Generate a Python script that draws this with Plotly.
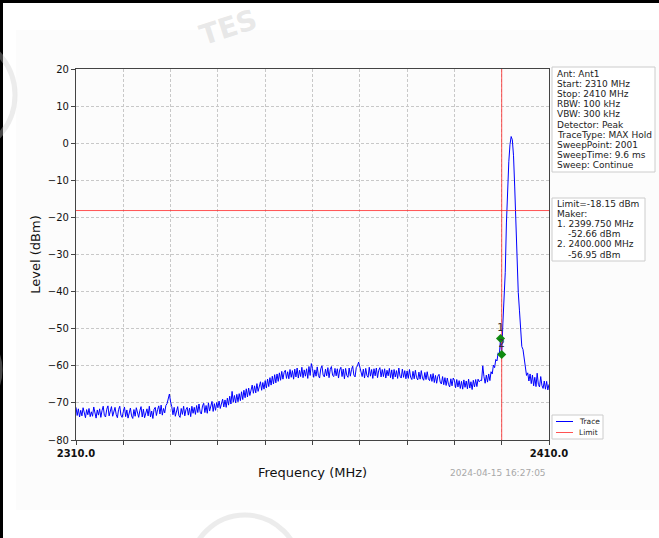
import plotly.graph_objects as go

# ---------------- data ----------------
START_MHZ = 2310.0
STOP_MHZ = 2410.0
STEP_MHZ = 0.25

# trace levels (dBm), every 0.25 MHz, 2310 .. 2410 MHz
trace_dbm = [
    -71.2, -73.4, -71.6, -73.8, -72.0, -73.5, -71.3, -72.9, -74.0, -71.8, -73.2, -71.5, -73.7, -72.4, -73.6, -71.1, -72.8, -74.1, -71.9, -73.3,
    -71.6, -73.9, -72.1, -70.9, -73.4, -73.8, -71.7, -70.8, -73.5, -72.0, -71.0, -73.6, -72.3, -71.2, -73.1, -74.0, -71.8, -70.9, -73.3, -73.9,
    -72.4, -71.1, -73.7, -71.9, -74.1, -72.6, -71.4, -73.5, -74.2, -71.8, -73.6, -71.3, -73.2, -73.9, -72.1, -71.0, -73.8, -71.7, -74.0, -72.6,
    -71.6, -73.5, -70.9, -73.8, -72.2, -74.2, -71.7, -71.2, -73.4, -71.8, -70.8, -73.0, -70.6, -73.3, -71.5, -72.7, -70.7, -70.2, -68.9, -67.6,
    -69.8, -71.0, -73.2, -71.2, -73.6, -72.0, -71.0, -73.4, -73.9, -71.5, -73.1, -70.9, -73.5, -71.8, -71.2, -73.3, -71.4, -73.7, -70.9, -72.8,
    -71.2, -73.1, -70.7, -72.6, -70.3, -72.5, -73.0, -70.8, -70.1, -72.6, -70.7, -72.8, -70.0, -72.2, -70.5, -69.6, -72.3, -70.2, -72.0, -69.9,
    -71.3, -69.5, -71.5, -70.0, -69.0, -71.1, -69.2, -71.2, -68.7, -70.6, -68.2, -70.3, -66.9, -69.8, -68.0, -70.0, -67.7, -69.7, -67.5, -69.4,
    -67.0, -69.1, -66.6, -68.6, -66.2, -68.4, -66.0, -68.0, -66.3, -65.2, -67.4, -65.4, -67.3, -64.8, -66.9, -65.0, -64.3, -66.6, -64.5, -66.3,
    -64.0, -66.0, -63.6, -65.6, -63.2, -65.2, -62.8, -64.9, -62.4, -64.6, -62.2, -64.2, -61.9, -63.9, -61.5, -63.6, -61.8, -61.2, -63.4, -61.6,
    -63.5, -61.0, -63.1, -61.3, -63.6, -60.9, -63.0, -60.6, -63.3, -61.2, -62.9, -60.4, -63.2, -61.1, -62.8, -60.8, -63.4, -60.2, -62.6, -59.4,
    -60.7, -63.1, -61.1, -62.8, -60.3, -62.6, -63.3, -60.8, -60.0, -62.5, -63.0, -60.9, -62.7, -60.5, -63.2, -61.0, -60.2, -62.6, -62.9, -60.7,
    -62.7, -60.8, -63.3, -61.1, -60.4, -62.9, -60.9, -63.5, -60.7, -62.6, -63.1, -60.6, -62.8, -61.0, -60.1, -62.5, -63.0, -60.5, -60.0, -59.0,
    -60.3, -62.4, -62.9, -60.9, -63.3, -60.7, -62.6, -63.1, -60.4, -62.8, -61.0, -63.4, -60.8, -62.7, -60.6, -63.2, -61.2, -60.5, -63.0, -61.0,
    -62.9, -60.8, -63.3, -61.2, -62.7, -60.7, -63.2, -61.1, -63.6, -61.0, -63.0, -61.3, -63.4, -60.6, -62.8, -63.3, -60.9, -63.1, -61.3, -63.5,
    -61.4, -63.4, -61.0, -63.1, -63.7, -61.5, -63.5, -61.2, -63.2, -63.8, -61.7, -63.6, -61.3, -63.3, -63.9, -61.8, -63.7, -61.6, -63.5, -64.0,
    -62.3, -64.2, -62.1, -64.5, -62.6, -64.7, -62.8, -62.3, -64.4, -64.9, -62.9, -65.1, -63.2, -65.3, -63.3, -65.0, -65.7, -63.5, -65.4, -63.3,
    -63.9, -65.9, -63.7, -65.7, -64.0, -66.1, -64.2, -66.3, -63.8, -65.8, -64.1, -66.2, -63.6, -66.0, -64.3, -66.4, -63.9, -65.7, -63.7, -65.6,
    -63.6, -64.3, -63.9, -64.0, -60.0, -62.9, -64.7, -62.5, -64.4, -62.2, -64.0, -61.6, -62.2, -59.8, -60.5, -58.3, -58.7, -56.5, -57.0, -52.66,
    -56.95, -48.5, -42.7, -34.8, -21.5, -12.0, -5.0, -0.4, 1.8, 0.9, -3.4, -11.8, -21.7, -32.5, -40.2, -45.0, -50.5, -54.8, -55.6, -58.3,
    -59.8, -62.6, -61.9, -64.1, -62.2, -64.8, -62.5, -65.4, -63.1, -65.6, -62.0, -65.0, -65.7, -62.9, -65.3, -66.1, -64.1, -66.3, -64.2, -66.5,
    -65.0,
]

limit_dbm = -18.15
band_edge_mhz = 2400.0

marker_labels = ["1", "2"]
marker_freqs = [2399.750, 2400.000]
marker_levels = [-52.66, -56.95]

x_tick_values = [2310, 2320, 2330, 2340, 2350, 2360, 2370, 2380, 2390, 2400, 2410]
x_tick_text = ["2310.0", "", "", "", "", "", "", "", "", "", "2410.0"]
y_tick_values = [-80, -70, -60, -50, -40, -30, -20, -10, 0, 10, 20]
y_tick_text = ["\u221280", "\u221270", "\u221260", "\u221250", "\u221240", "\u221230",
               "\u221220", "\u221210", "0", "10", "20"]

info_lines = ["Ant: Ant1", "Start: 2310 MHz", "Stop: 2410 MHz", "RBW: 100 kHz",
              "VBW: 300 kHz", "Detector: Peak", "TraceType: MAX Hold",
              "SweepPoint: 2001", "SweepTime: 9.6 ms", "Sweep: Continue"]
marker_info_lines = ["Limit=-18.15 dBm", "Maker:", "1. 2399.750 MHz", "-52.66 dBm",
                     "2. 2400.000 MHz", "-56.95 dBm"]
marker_info_indent = [False, False, False, True, False, True]
legend_names = ["Trace", "Limit"]
timestamp = "2024-04-15 16:27:05"

# ---------------- layout helpers ----------------
W, H = 659, 538
L, R, T, B = 76, 110, 69, 98
PW, PH = W - L - R, H - T - B


def px(x):
    return (x - L) / PW


def py(y):
    return (H - B - y) / PH


freqs = [START_MHZ + STEP_MHZ * i for i in range(len(trace_dbm))]

TRACE_BLUE = "#0000ff"
LIMIT_RED = "rgba(255,40,40,0.8)"

fig = go.Figure()
fig.add_trace(go.Scatter(x=freqs, y=trace_dbm, mode="lines", name="Trace",
                         line=dict(color=TRACE_BLUE, width=1)))
fig.add_trace(go.Scatter(x=[START_MHZ, STOP_MHZ], y=[limit_dbm, limit_dbm], mode="lines",
                         name="Limit", line=dict(color=LIMIT_RED, width=1)))
fig.add_trace(go.Scatter(x=[band_edge_mhz, band_edge_mhz], y=[-80, 20], mode="lines",
                         name="Band edge", line=dict(color=LIMIT_RED, width=1)))
fig.add_trace(go.Scatter(x=marker_freqs, y=marker_levels, mode="markers+text",
                         text=marker_labels, textposition="top center",
                         textfont=dict(size=10, color="#333333"),
                         marker=dict(symbol="diamond", size=7, color="#0f8a0f"),
                         name="Markers"))

shapes = []
annotations = []

# page: black paper with a white sheet leaves the top/left window frame
shapes.append(dict(type="rect", xref="paper", yref="paper", x0=px(3), x1=px(W + 10), y0=py(H + 10), y1=py(3),
                   fillcolor="white", line=dict(width=0), layer="below"))
shapes.append(dict(type="rect", xref="paper", yref="paper", x0=px(16), x1=px(W + 10), y0=py(30), y1=py(510),
                   fillcolor="#fcfcfc", line=dict(width=0), layer="below"))

# faint watermark stamps
for (cx, cy, r) in [(-45, 95, 60), (-45, 370, 45), (245, 570, 55)]:
    shapes.append(dict(type="circle", xref="paper", yref="paper", x0=px(cx - r), x1=px(cx + r),
                       y0=py(cy + r), y1=py(cy - r), line=dict(color="rgba(200,200,200,0.35)", width=5),
                       layer="below"))
annotations.append(dict(xref="paper", yref="paper", x=px(228), y=py(27), text="<b>TES</b>", showarrow=False,
                        xanchor="center", yanchor="middle",
                        textangle=-18, font=dict(size=28, color="rgba(205,205,205,0.45)")))

# info box
shapes.append(dict(type="rect", xref="paper", yref="paper", x0=px(552), x1=px(655), y0=py(172), y1=py(67),
                   fillcolor="white", line=dict(color="#cccccc", width=1)))
for i, t in enumerate(info_lines):
    annotations.append(dict(xref="paper", yref="paper", x=px(555), y=py(74 + i * 10.1), text=t,
                            xanchor="left", yanchor="middle", showarrow=False,
                            font=dict(size=9, color="#222222")))

# marker info box
shapes.append(dict(type="rect", xref="paper", yref="paper", x0=px(552), x1=px(645), y0=py(261), y1=py(198),
                   fillcolor="white", line=dict(color="#cccccc", width=1)))
for i, t in enumerate(marker_info_lines):
    annotations.append(dict(xref="paper", yref="paper", x=px(566 if marker_info_indent[i] else 555),
                            y=py(204 + i * 10.1), text=t, xanchor="left", yanchor="middle",
                            showarrow=False, font=dict(size=9, color="#222222")))

# legend box
shapes.append(dict(type="rect", xref="paper", yref="paper", x0=px(552), x1=px(603), y0=py(439), y1=py(415),
                   fillcolor="white", line=dict(color="#cccccc", width=1)))
for i, (name, col) in enumerate(zip(legend_names, [TRACE_BLUE, LIMIT_RED])):
    yy = 421.5 + i * 11
    shapes.append(dict(type="line", xref="paper", yref="paper", x0=px(556), x1=px(573), y0=py(yy), y1=py(yy),
                       line=dict(color=col, width=1)))
    annotations.append(dict(xref="paper", yref="paper", x=px(577), y=py(yy), text=name, xanchor="left",
                            yanchor="middle", showarrow=False, font=dict(size=7.5, color="#222222")))

# timestamp
annotations.append(dict(xref="paper", yref="paper", x=px(548), y=py(473), text=timestamp, xanchor="right",
                        yanchor="middle", showarrow=False, font=dict(size=9, color="#a8a8a8")))

fig.update_layout(
    width=W, height=H,
    margin=dict(l=L, r=R, t=T, b=B),
    paper_bgcolor="black", plot_bgcolor="white",
    showlegend=False,
    font=dict(family="DejaVu Sans", color="#222222"),
    shapes=shapes, annotations=annotations,
    xaxis=dict(range=[START_MHZ, STOP_MHZ], tickvals=x_tick_values, ticktext=x_tick_text,
               ticks="outside", ticklen=4, tickcolor="#444444", tickwidth=1,
               tickfont=dict(size=10, color="#111111", weight="bold"),
               showgrid=True, gridcolor="#c8c8c8", griddash="3px,2px", gridwidth=0.8,
               showline=True, linecolor="#444444", linewidth=1.2, mirror=True, zeroline=False,
               title=dict(text="Frequency (MHz)", font=dict(size=13, color="#111111"), standoff=9)),
    yaxis=dict(range=[-80, 20], tickvals=y_tick_values, ticktext=y_tick_text,
               ticks="outside", ticklen=4, tickcolor="#444444", tickwidth=1,
               tickfont=dict(size=10, color="#111111"),
               showgrid=True, gridcolor="#c8c8c8", griddash="3px,2px", gridwidth=0.8,
               showline=True, linecolor="#444444", linewidth=1.2, mirror=True, zeroline=False,
               title=dict(text="Level (dBm)", font=dict(size=13, color="#111111"), standoff=4)),
)

fig.write_html("out.html", config={"displayModeBar": False},
               post_script="document.body.style.margin='0';")
